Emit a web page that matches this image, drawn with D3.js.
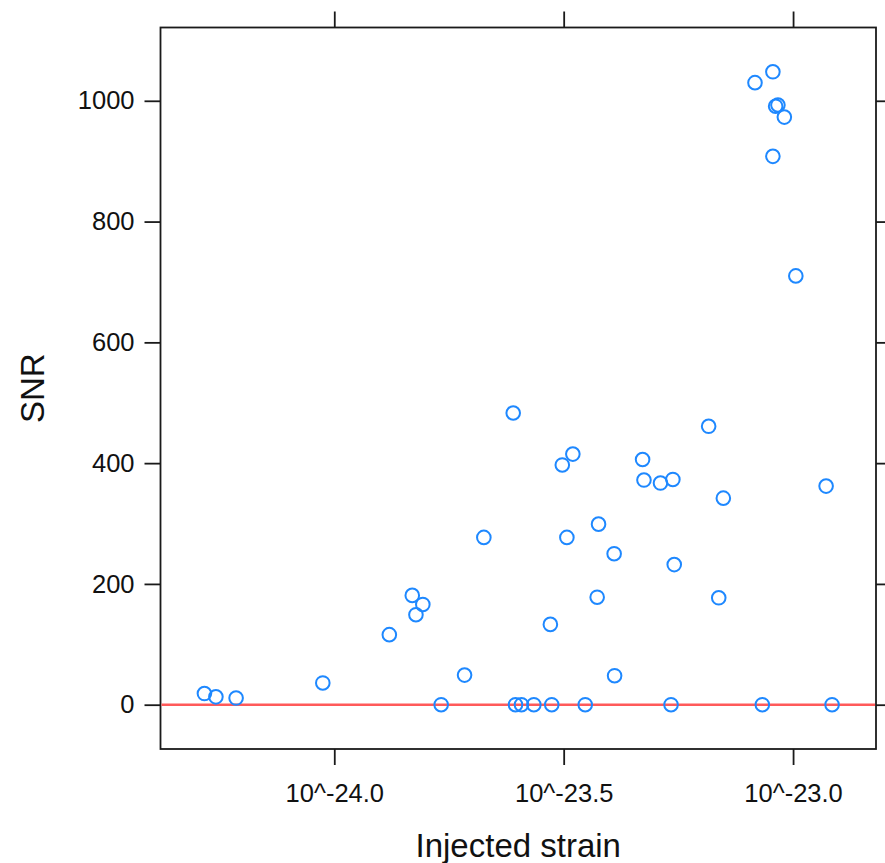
<!DOCTYPE html>
<html><head><meta charset="utf-8">
<script src="https://cdn.jsdelivr.net/npm/d3@7/dist/d3.min.js"></script>
<style>html,body{margin:0;padding:0;background:#fff;}svg{display:block;}</style>
</head><body>
<script>
// log10 of injected strain
const logStrain = [-24.283,-24.258,-24.214,-24.025,-23.880,-23.830,-23.822,-23.807,-23.767,-23.716,
  -23.674,-23.610,-23.605,-23.592,-23.565,-23.529,-23.526,-23.503,-23.493,-23.480,
  -23.453,-23.427,-23.424,-23.390,-23.389,-23.328,-23.325,-23.289,-23.266,-23.262,
  -23.259,-23.184,-23.162,-23.152,-23.083,-23.067,-23.044,-23.044,-23.038,-23.033,
  -23.019,-22.994,-22.928,-22.915];
const snr = [18.5,13,11,36,116,181,149,166,0,49,
  277,483,0,0,0,133,0,397,277,415,
  0,178,299,250,48,406,372,367,0,373,
  232,461,177,342,1030,0,1048,908,991,993,
  973,710,362,0];
const xTicks = [-24.0,-23.5,-23.0];
const xTickLabels = ["10^-24.0","10^-23.5","10^-23.0"];
const yTicks = [0,200,400,600,800,1000];
const refLine = [0];

const W=885,H=863;
const L=160.5,R=876,T=27.5,B=749;
const svg=d3.select("body").append("svg").attr("width",W).attr("height",H);

const xmin=d3.min(logStrain), xmax=d3.max(logStrain);
const xpad=(xmax-xmin)*0.07;
const x=d3.scaleLinear().domain([xmin-xpad,xmax+xpad]).range([L,R]);
const ymin=0, ymax=d3.max(snr);
const ypad=(ymax-ymin)*0.07;
const y=d3.scaleLinear().domain([ymin-ypad,ymax+ypad]).range([B,T]);

const font="'Liberation Sans', Arial, sans-serif";
const tickLen=16;

// bottom axis
const xb=svg.append("g").attr("transform",`translate(0,${B})`)
  .call(d3.axisBottom(x).tickValues(xTicks).tickSize(tickLen).tickPadding(19)
  .tickFormat((d,i)=>xTickLabels[i]));
// top axis
const xt=svg.append("g").attr("transform",`translate(0,${T})`)
  .call(d3.axisTop(x).tickValues(xTicks).tickSize(tickLen).tickFormat(""));
// left axis
const yl=svg.append("g").attr("transform",`translate(${L},0)`)
  .call(d3.axisLeft(y).tickValues(yTicks).tickSize(tickLen).tickPadding(10).tickFormat(d3.format("d")));
// right axis
const yr=svg.append("g").attr("transform",`translate(${R},0)`)
  .call(d3.axisRight(y).tickValues(yTicks).tickSize(tickLen).tickFormat(""));
[xb,xt,yl,yr].forEach(g=>{
  g.select(".domain").remove();
  g.selectAll(".tick line").attr("stroke","#1a1a1a").attr("stroke-width",1.8);
  g.selectAll("text").attr("font-family",font).attr("font-size",25.5).attr("fill","#111");
});

// panel border
svg.append("rect").attr("x",L).attr("y",T).attr("width",R-L).attr("height",B-T)
  .attr("fill","none").attr("stroke","#1a1a1a").attr("stroke-width",1.8);

// reference line
svg.selectAll(".ref").data(refLine).enter().append("line")
  .attr("x1",L+1).attr("x2",R-1).attr("y1",d=>y(d)).attr("y2",d=>y(d))
  .attr("stroke","#ff5a5a").attr("stroke-width",2.6);

// points
svg.append("g").selectAll("circle").data(logStrain.map((v,i)=>[v,snr[i]])).enter()
  .append("circle").attr("cx",d=>x(d[0])).attr("cy",d=>y(d[1])).attr("r",6.8)
  .attr("fill","none").attr("stroke","#1e88ff").attr("stroke-width",2);

// axis titles
svg.append("text").attr("x",(L+R)/2).attr("y",857).attr("text-anchor","middle")
  .attr("font-family",font).attr("font-size",33).attr("fill","#111").text("Injected strain");
svg.append("text").attr("transform",`translate(44,${(T+B)/2}) rotate(-90)`).attr("text-anchor","middle")
  .attr("font-family",font).attr("font-size",33).attr("fill","#111").text("SNR");
</script>
</body></html>
